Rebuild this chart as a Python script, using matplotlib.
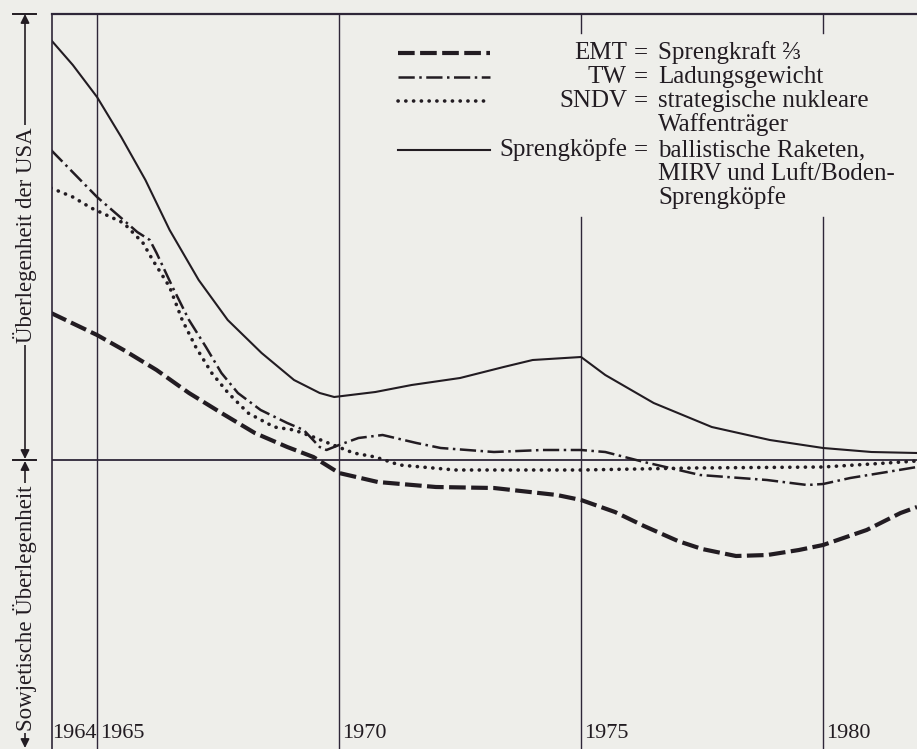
import matplotlib
matplotlib.use("Agg")
import matplotlib.pyplot as plt
from matplotlib.lines import Line2D
from matplotlib.patches import FancyArrowPatch

# --- Daten (willkürliche Einheiten, 0 = Gleichstand) ---
emt_jahre = [1964.05, 1965, 1965.55, 1966.23, 1966.9, 1967.57, 1968.26, 1968.93, 1969.47,
             1970, 1970.8, 1972, 1973.2, 1974.5, 1975, 1975.7, 1976.3, 1977, 1977.5,
             1978.2, 1978.85, 1979.5, 1980, 1980.9, 1981.6, 1981.94]
emt_werte = [14.7, 12.5, 11.0, 9.0, 6.7, 4.7, 2.7, 1.3, 0.3,
             -1.3, -2.2, -2.7, -2.8, -3.5, -4.0, -5.2, -6.6, -8.1, -8.9,
             -9.6, -9.5, -9.0, -8.5, -7.0, -5.3, -4.7]

tw_jahre = [1964.05, 1965, 1965.5, 1965.83, 1966.09, 1966.23, 1966.56, 1966.9, 1967.25,
            1967.57, 1967.91, 1968.38, 1968.93, 1969.27, 1969.6, 1969.74, 1970, 1970.4,
            1970.9, 1971.6, 1972.1, 1973.2, 1974.2, 1975, 1975.5, 1976.3, 1977.46,
            1978.84, 1979.67, 1980, 1980.56, 1981.32, 1981.94]
tw_werte = [31.0, 26.3, 24.2, 22.8, 22.0, 20.7, 17.3, 14.0, 11.3,
            8.7, 6.7, 5.0, 3.7, 3.0, 1.3, 1.0, 1.5, 2.2,
            2.5, 1.7, 1.2, 0.8, 1.0, 1.0, 0.8, -0.2, -1.5,
            -2.0, -2.5, -2.4, -1.8, -1.2, -0.7]

sndv_jahre = [1964.05, 1964.5, 1964.88, 1965.55, 1965.95, 1966.15, 1966.5, 1966.76, 1967.04,
              1967.37, 1967.71, 1968.12, 1968.66, 1969.07, 1969.47, 1969.88, 1970.3, 1970.75,
              1971.25, 1972.4, 1975, 1977.3, 1980, 1981, 1981.94]
sndv_werte = [27.2, 26.3, 25.2, 23.7, 21.7, 20.0, 17.3, 14.0, 11.3,
              8.7, 6.7, 4.7, 3.3, 3.0, 2.3, 1.5, 0.7, 0.3,
              -0.5, -1.0, -1.0, -0.8, -0.7, -0.4, -0.1]

spk_jahre = [1964.05, 1964.5, 1965, 1965.5, 1966, 1966.5, 1967.1, 1967.7, 1968.4,
             1969.07, 1969.6, 1969.9, 1970.75, 1971.5, 1972.5, 1973.4, 1974, 1975, 1975.5,
             1976.5, 1977.7, 1978.9, 1980, 1981, 1981.94]
spk_werte = [42.0, 39.5, 36.3, 32.3, 28.0, 23.0, 18.0, 14.0, 10.7,
             8.0, 6.7, 6.3, 6.8, 7.5, 8.2, 9.3, 10.0, 10.3, 8.5,
             5.7, 3.3, 2.0, 1.2, 0.8, 0.7]

jahr_linien = [1965, 1970, 1975, 1980]
jahr_labels = ["1964", "1965", "1970", "1975", "1980"]
jahr_label_pos = [1964, 1965, 1970, 1975, 1980]

legende_kurz = ["EMT", "TW", "SNDV", "Sprengköpfe"]
legende_text = [["Sprengkraft ⅔"],
                ["Ladungsgewicht"],
                ["strategische nukleare", "Waffenträger"],
                ["ballistische Raketen,", "MIRV und Luft/Boden-", "Sprengköpfe"]]

# --- Stil ---
W, H = 917, 749
papier = "#eeeeea"
tinte = "#221c22"
gitter = "#2e2638"
serif = ["Liberation Serif", "DejaVu Serif"]

stile = [
    dict(lw=3.0, dashes=(4.0, 1.3), dash_capstyle="butt"),              # EMT
    dict(lw=1.8, dashes=(6.5, 1.8, 1.0, 1.8), dash_capstyle="butt"),   # TW
    dict(lw=2.6, dashes=(0.05, 2.1), dash_capstyle="round"),           # SNDV
    dict(lw=1.5, linestyle="-"),                                        # Sprengköpfe
]


def fpx(x, y):
    """Pixelposition (von oben links) -> Figurkoordinaten."""
    return x / W, 1 - y / H


fig = plt.figure(figsize=(W / 100, H / 100), dpi=100, facecolor=papier)
oben = 14
ax = fig.add_axes([52 / W, 0, 1 - 52 / W, (H - oben) / H])
ax.set_facecolor(papier)
ax.set_xlim(1964.07, 1981.94)
ax.set_ylim(-28.9, 44.6)
ax.set_xticks([])
ax.set_yticks([])
for s in ["right", "bottom"]:
    ax.spines[s].set_visible(False)
ax.spines["top"].set_linewidth(1.6)
ax.spines["top"].set_color(gitter)
ax.spines["left"].set_linewidth(1.2)
ax.spines["left"].set_color(gitter)

# Gitterlinien (bei 1975/1980 von der Legende unterbrochen)
def frac(py):
    return (H - py) / (H - oben)

for j in jahr_linien:
    if j in (1975, 1980):
        ax.axvline(j, ymin=frac(33), ymax=1, color=gitter, lw=1.0)
        ax.axvline(j, ymin=0, ymax=frac(217), color=gitter, lw=1.0)
    else:
        ax.axvline(j, color=gitter, lw=1.0)
ax.axhline(0, color=gitter, lw=1.3)

# Kurven
serien = [(emt_jahre, emt_werte), (tw_jahre, tw_werte),
          (sndv_jahre, sndv_werte), (spk_jahre, spk_werte)]
for (xj, yw), st in zip(serien, stile):
    ax.plot(xj, yw, color=tinte, solid_joinstyle="round", **st)

# Jahreszahlen unten
for pos, lab in zip(jahr_label_pos, jahr_labels):
    ax.annotate(lab, xy=(pos, 0), xycoords=("data", "axes fraction"),
                xytext=(2.5, 4), textcoords="offset points",
                ha="left", va="bottom", fontsize=16, family=serif, color=tinte)

# Legende
zeilen_y = [53, 77, 101, 150]
zeilen_abstand = 24
for kurz, text, st, zy in zip(legende_kurz, legende_text, stile, zeilen_y):
    x0, y0 = fpx(398, zy)
    x1, _ = fpx(490, zy)
    fig.add_artist(Line2D([x0, x1], [y0, y0], transform=fig.transFigure,
                          color=tinte, **st))
    fx, fy = fpx(627, zy)
    fig.text(fx, fy, kurz, ha="right", va="center", fontsize=18, family=serif, color=tinte)
    fx, fy = fpx(641, zy)
    fig.text(fx, fy, "=", ha="center", va="center", fontsize=18, family=serif, color=tinte)
    for k, t in enumerate(text):
        fx, fy = fpx(658, zy + k * zeilen_abstand)
        fig.text(fx, fy, t, ha="left", va="center", fontsize=18, family=serif, color=tinte)

# Pfeile links
pfeil = dict(arrowstyle="<|-|>", mutation_scale=13, color=tinte, lw=1.2,
             shrinkA=0, shrinkB=0, transform=fig.transFigure)
fig.add_artist(FancyArrowPatch(fpx(25, oben), fpx(25, 459), **pfeil))
fig.add_artist(FancyArrowPatch(fpx(25, 461), fpx(25, 748), **pfeil))
for yq in (oben, 460):
    xa, ya = fpx(13, yq)
    xb, _ = fpx(36, yq)
    fig.add_artist(Line2D([xa, xb], [ya, ya], transform=fig.transFigure, color=tinte, lw=1.4))

box = dict(facecolor=papier, edgecolor="none", pad=1.5)
fx, fy = fpx(25, 235)
fig.text(fx, fy, "Überlegenheit der USA", rotation=90, ha="center", va="center",
         fontsize=16.5, family=serif, color=tinte, bbox=box)
fx, fy = fpx(25, 608)
fig.text(fx, fy, "Sowjetische Überlegenheit", rotation=90, ha="center", va="center",
         fontsize=16.5, family=serif, color=tinte, bbox=box)

fig.savefig("out.png", dpi=100, facecolor=papier)
